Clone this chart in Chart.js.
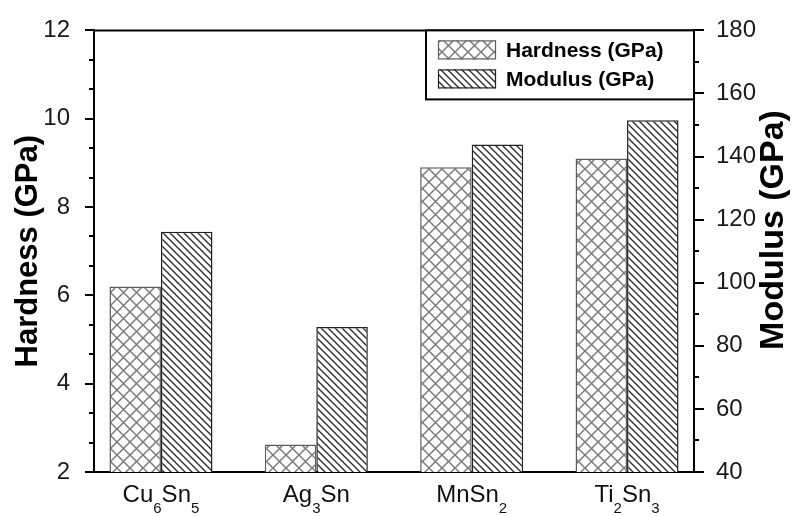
<!DOCTYPE html>
<html>
<head>
<meta charset="utf-8" />
<title>Hardness and modulus</title>
<script src="https://cdn.jsdelivr.net/npm/chart.js"></script>
<style>
    body { margin: 0; background: #fff; }
    #wrap { width: 795px; height: 516px; position: relative; }
</style>
</head>
<body>
<div id="wrap"><canvas id="chart"></canvas></div>
<script>
    // phases, with "_n" marking a subscript digit
    const phases = ['Cu_6Sn_5', 'Ag_3Sn', 'MnSn_2', 'Ti_2Sn_3'];
    const hardness = [6.2, 2.62, 8.9, 9.1];        // GPa, left axis
    const modulus = [116.2, 86.0, 143.8, 151.5];   // GPa, right axis
    const hardnessTicks = [2, 4, 6, 8, 10, 12];
    const modulusTicks = [40, 60, 80, 100, 120, 140, 160, 180];

    const FONT = "'Liberation Sans', Arial, Helvetica, sans-serif";

    function crossHatch() {
        const s = 13;
        const c = document.createElement('canvas');
        c.width = c.height = s;
        const g = c.getContext('2d');
        g.fillStyle = '#fff';
        g.fillRect(0, 0, s, s);
        g.strokeStyle = '#7c7c7c';
        g.lineWidth = 1.5;
        g.beginPath();
        g.moveTo(-1, -1); g.lineTo(s + 1, s + 1);
        g.moveTo(s + 1, -1); g.lineTo(-1, s + 1);
        g.stroke();
        return g.createPattern(c, 'repeat');
    }

    function backHatch() {
        const s = 7;
        const c = document.createElement('canvas');
        c.width = c.height = s;
        const g = c.getContext('2d');
        g.fillStyle = '#fff';
        g.fillRect(0, 0, s, s);
        g.strokeStyle = '#262626';
        g.lineWidth = 1.3;
        g.beginPath();
        g.moveTo(-1, -1); g.lineTo(s + 1, s + 1);
        g.moveTo(s - 1, -1); g.lineTo(s + 1, 1);
        g.moveTo(-1, s - 1); g.lineTo(1, s + 1);
        g.stroke();
        return g.createPattern(c, 'repeat');
    }

    // left axis gets two minor ticks per major step, right axis one
    const hardnessAll = [];
    for (let k = 0; k <= 15; k++) hardnessAll.push(2 + k * 2 / 3);
    const modulusAll = [];
    for (let v = 40; v <= 180; v += 10) modulusAll.push(v);

    const isMajor = (list, v) => list.some(t => Math.abs(t - v) < 1e-6);

    // ticks, frame top, axis titles, phase labels and the boxed legend
    const decor = {
        id: 'decor',
        afterDraw(chart) {
            const ctx = chart.ctx;
            const a = chart.chartArea;
            const ys = chart.scales.y, y1 = chart.scales.y1, xs = chart.scales.x;
            ctx.save();
            ctx.strokeStyle = '#000';
            ctx.lineWidth = 2;

            ctx.beginPath();
            ctx.moveTo(a.left - 1, a.top);
            ctx.lineTo(a.right + 1, a.top);
            ctx.stroke();

            ctx.beginPath();
            hardnessAll.forEach(v => {
                const p = Math.round(ys.getPixelForValue(v));
                const len = isMajor(hardnessTicks, v) ? 9 : 5;
                ctx.moveTo(a.left - len, p);
                ctx.lineTo(a.left, p);
            });
            modulusAll.forEach(v => {
                const p = Math.round(y1.getPixelForValue(v));
                const len = isMajor(modulusTicks, v) ? 10 : 5;
                ctx.moveTo(a.right, p);
                ctx.lineTo(a.right + len, p);
            });
            ctx.stroke();

            // axis titles, both reading bottom to top
            ctx.fillStyle = '#000';
            ctx.textAlign = 'center';
            ctx.textBaseline = 'middle';
            ctx.save();
            ctx.font = 'bold 31px ' + FONT;
            ctx.translate(28, (a.top + a.bottom) / 2);
            ctx.rotate(-Math.PI / 2);
            ctx.fillText('Hardness (GPa)', 0, 0);
            ctx.restore();
            ctx.save();
            ctx.font = 'bold 34px ' + FONT;
            ctx.translate(774, 230);
            ctx.rotate(-Math.PI / 2);
            ctx.fillText('Modulus (GPa)', 0, 0);
            ctx.restore();

            // phase labels with subscripts
            ctx.textAlign = 'left';
            ctx.textBaseline = 'alphabetic';
            ctx.fillStyle = '#111';
            phases.forEach((name, i) => {
                const parts = [];
                for (let j = 0; j < name.length; j++) {
                    if (name[j] === '_') { parts.push({ t: name[j + 1], sub: true }); j++; }
                    else if (parts.length && !parts[parts.length - 1].sub) parts[parts.length - 1].t += name[j];
                    else parts.push({ t: name[j], sub: false });
                }
                let w = 0;
                parts.forEach(p => {
                    ctx.font = (p.sub ? '15px ' : '24px ') + FONT;
                    p.w = ctx.measureText(p.t).width;
                    w += p.w;
                });
                let x = xs.getPixelForValue(i) - w / 2;
                parts.forEach(p => {
                    ctx.font = (p.sub ? '15px ' : '24px ') + FONT;
                    ctx.fillText(p.t, x, p.sub ? 513 : 502);
                    x += p.w;
                });
            });

            // legend box in the top right corner of the frame
            const bw = 268, bh = 69;
            const bx = a.right - bw, by = a.top;
            ctx.fillStyle = '#fff';
            ctx.fillRect(bx, by, bw, bh);
            ctx.lineWidth = 2;
            ctx.strokeStyle = '#000';
            ctx.strokeRect(bx, by, bw, bh);
            chart.data.datasets.forEach((ds, i) => {
                const sy = by + 10 + i * 29;
                ctx.fillStyle = ds.backgroundColor;
                ctx.fillRect(bx + 12, sy, 58, 19);
                ctx.lineWidth = 1.2;
                ctx.strokeStyle = ds.borderColor;
                ctx.strokeRect(bx + 12.5, sy + 0.5, 57, 18);
                ctx.fillStyle = '#000';
                ctx.font = 'bold 21px ' + FONT;
                ctx.fillText(ds.label, bx + 80, sy + 17);
            });
            ctx.restore();
        }
    };

    const chart = new Chart(document.getElementById('chart'), {
        type: 'bar',
        data: {
            datasets: [
                {
                    label: 'Hardness (GPa)',
                    data: hardness.map((v, i) => ({ x: i, y: v })),
                    yAxisID: 'y',
                    backgroundColor: crossHatch(),
                    borderColor: '#5e5e5e',
                    borderWidth: 1.5
                },
                {
                    label: 'Modulus (GPa)',
                    data: modulus.map((v, i) => ({ x: i, y: v })),
                    yAxisID: 'y1',
                    backgroundColor: backHatch(),
                    borderColor: '#222',
                    borderWidth: 1.5
                }
            ]
        },
        options: {
            responsive: true,
            maintainAspectRatio: false,
            animation: false,
            layout: { padding: { top: 23, left: 0, right: 0, bottom: 0 } },
            datasets: { bar: { barPercentage: 1, categoryPercentage: 0.663 } },
            plugins: { legend: { display: false }, tooltip: { enabled: false } },
            scales: {
                x: {
                    type: 'linear',
                    offset: false,
                    min: -0.431,
                    max: 3.431,
                    afterBuildTicks: s => { s.ticks = phases.map((p, i) => ({ value: i })); },
                    afterFit: s => { s.height = 44; },
                    grid: { display: false, offset: false },
                    ticks: { display: false },
                    border: { color: '#000', width: 2 }
                },
                y: {
                    position: 'left',
                    min: 2,
                    max: 12,
                    afterBuildTicks: s => { s.ticks = hardnessTicks.map(v => ({ value: v })); },
                    afterFit: s => { s.width = 94; },
                    grid: { display: false },
                    border: { color: '#000', width: 2 },
                    ticks: {
                        padding: 16,
                        color: '#1a1a1a',
                        font: { family: FONT, size: 24 }
                    }
                },
                y1: {
                    position: 'right',
                    min: 40,
                    max: 180,
                    afterBuildTicks: s => { s.ticks = modulusTicks.map(v => ({ value: v })); },
                    afterFit: s => { s.width = 101; },
                    grid: { display: false },
                    border: { color: '#000', width: 2 },
                    ticks: {
                        padding: 14,
                        color: '#1a1a1a',
                        font: { family: FONT, size: 24 }
                    }
                }
            }
        },
        plugins: [decor]
    });
</script>
</body>
</html>
